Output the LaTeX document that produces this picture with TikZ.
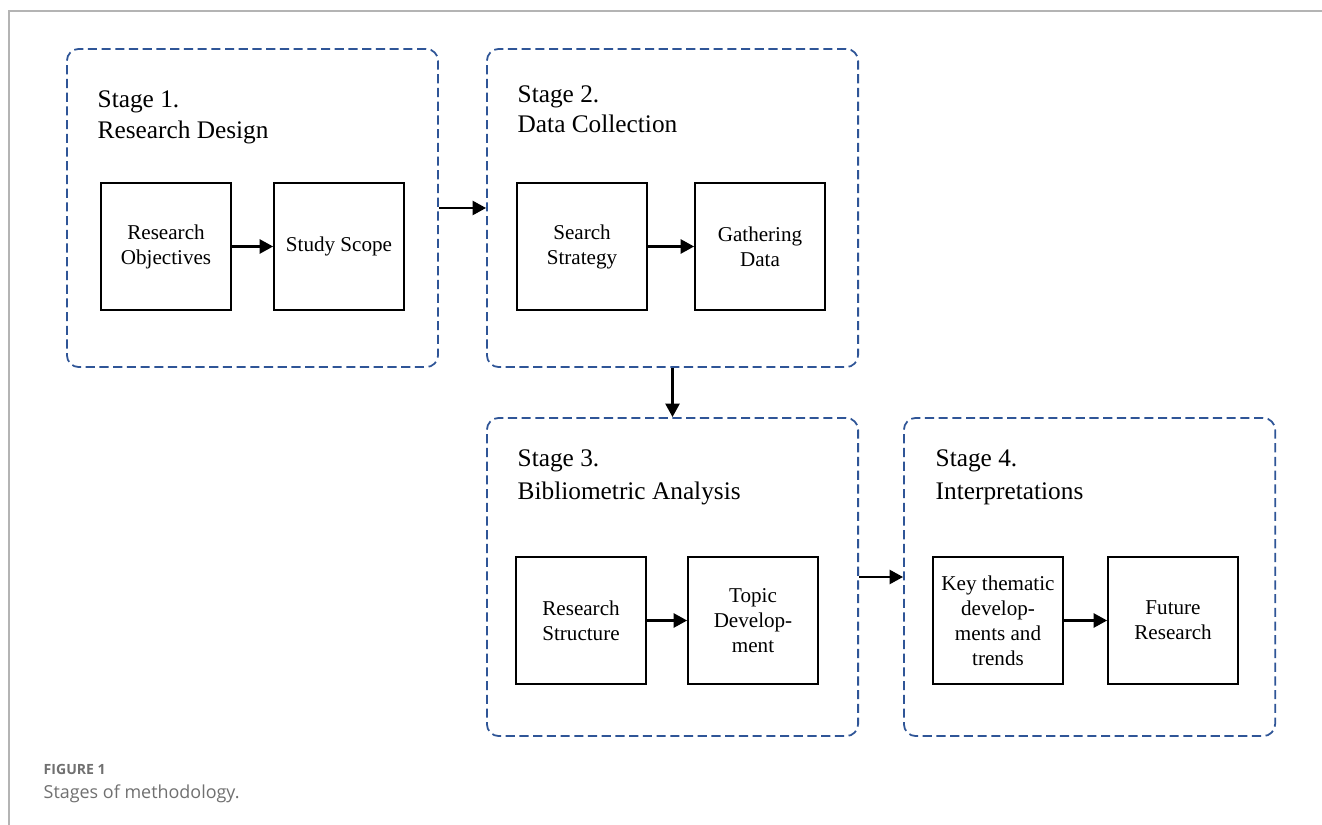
\documentclass[tikz,border=0pt]{standalone}
\usepackage{fontspec}
\setmainfont{Liberation Serif}
\newfontfamily\capfont{Open Sans}
\usetikzlibrary{arrows.meta}
\definecolor{dashblue}{HTML}{2F5597}
\definecolor{framegray}{HTML}{B4B4B4}
\definecolor{capgray}{HTML}{707070}
\begin{document}
\begin{tikzpicture}[x=0.01cm,y=-0.01cm,
  stagebox/.style={draw=dashblue, line width=0.5pt, dash pattern=on 2.6pt off 1.3pt,
    rounded corners=3.4pt, minimum width=3.71cm, minimum height=3.18cm, inner sep=0pt},
  innerbox/.style={draw=black, line width=0.5pt, minimum width=1.3cm, minimum height=1.27cm,
    align=center, font=\fontsize{6}{7.1}\selectfont, inner sep=0pt},
  arr/.style={line width=0.6pt, -{Triangle[length=3.8pt,width=4pt]}},
  stagetitle/.style={anchor=base west, font=\fontsize{7.2}{9}\selectfont, inner sep=0pt}]
\useasboundingbox (0,0) rectangle (1322,825);
\fill[white] (0,0) rectangle (1322,825);
\coordinate (fr1) at (1322,11);
\coordinate (fr2) at (9,11);
\coordinate (fr3) at (9,825);
\draw[framegray, line width=0.5pt] (fr1) -- (fr2) -- (fr3);

% stage boxes
\node[stagebox] (s1) at (252.5,208) {};
\node[stagebox] (s2) at (672.5,208) {};
\node[stagebox] (s3) at (672.5,577) {};
\node[stagebox] (s4) at (1089.5,577) {};

% titles
\node[stagetitle] (t1a) at (97,108) {Stage 1.};
\node[stagetitle] (t1b) at (97,139) {Research Design};
\node[stagetitle] (t2a) at (517,103) {Stage 2.};
\node[stagetitle] (t2b) at (517,133) {Data Collection};
\node[stagetitle] (t3a) at (517,467) {Stage 3.};
\node[stagetitle] (t3b) at (517,499) {Bibliometric Analysis};
\node[stagetitle] (t4a) at (935,467) {Stage 4.};
\node[stagetitle] (t4b) at (935,499) {Interpretations};

% inner boxes
\node[innerbox] (ro) at (166,246.5) {Research\\Objectives};
\node[innerbox] (sc) at (339,246.5) {Study Scope};
\node[innerbox] (ss) at (582,246.5) {Search\\Strategy};
\node[innerbox] (gd) at (760,246.5) {Gathering\\Data};
\node[innerbox] (rs) at (581,620.5) {Research\\Structure};
\node[innerbox] (td) at (753,620.5) {Topic\\Develop-\\ment};
\node[innerbox] (kt) at (998,620.5) {Key thematic\\develop-\\ments and\\trends};
\node[innerbox] (fr) at (1173,620.5) {Future\\Research};

% arrows
\draw[arr] (ro) -- (sc);
\draw[arr] (ss) -- (gd);
\draw[arr] (rs) -- (td);
\draw[arr] (kt) -- (fr);
\draw[arr] (s1.east) -- (s2.west);
\draw[arr] (s2.south) -- (s3.north);
\draw[arr] (s3.east) -- (s4.west);

% caption
\node[anchor=base west, inner sep=0pt, text=capgray, font=\capfont\bfseries\fontsize{4}{4.8}\selectfont] (figlab) at (43,774) {FIGURE 1};
\node[anchor=base west, inner sep=0pt, text=capgray, font=\capfont\fontsize{5.1}{6}\selectfont] (figcap) at (43,798) {Stages of methodology.};
\end{tikzpicture}
\end{document}
